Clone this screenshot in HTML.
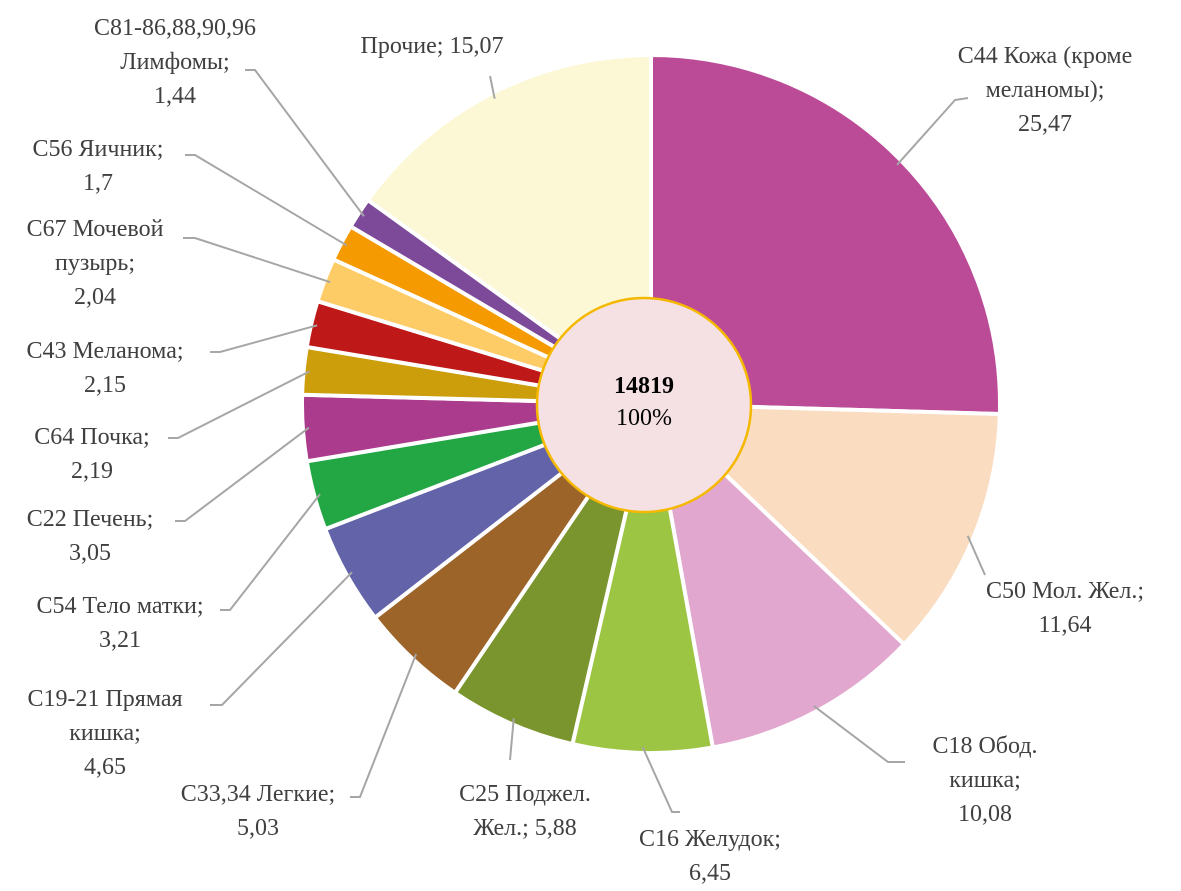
<!DOCTYPE html>
<html><head><meta charset="utf-8"><style>
html,body{margin:0;padding:0;background:#fff;}
svg text{font-family:"Liberation Serif",serif;font-size:24px;fill:#404040;}
</style></head><body>
<svg id="chart" width="1181" height="886" viewBox="0 0 1181 886">
<g id="slices"></g>
<g id="leaders"></g>
<g id="labels"></g>
<circle cx="644" cy="405" r="107" fill="#f5e1e3" stroke="#f5b800" stroke-width="2.5"/>
<text x="644" y="393" text-anchor="middle" style="font-weight:bold;fill:#000">14819</text>
<text x="644" y="425" text-anchor="middle" style="fill:#000">100%</text>
</svg>
<script>
const categories=["С44 Кожа (кроме меланомы)","С50 Мол. Жел.","С18 Обод. кишка","С16 Желудок","С25 Поджел. Жел.","С33,34 Легкие","С19-21 Прямая кишка","С54 Тело матки","С22 Печень","С64 Почка","С43 Меланома","С67 Мочевой пузырь","С56 Яичник","С81-86,88,90,96 Лимфомы","Прочие"];
const values=[25.47,11.64,10.08,6.45,5.88,5.03,4.65,3.21,3.05,2.19,2.15,2.04,1.7,1.44,15.07];
const valueLabels=["25,47","11,64","10,08","6,45","5,88","5,03","4,65","3,21","3,05","2,19","2,15","2,04","1,7","1,44","15,07"];
const colors=["#bb4a97","#fadcc0","#e2a7cf","#9dc544","#7a952e","#9c6428","#6363aa","#22a744","#ab3b8c","#cc9e0c","#bf1818","#fdcc66","#f59a00","#7d4a9a","#fcf8d6"];
const labelLines=[["С44 Кожа (кроме","меланомы);","{v}"],["С50 Мол. Жел.;","{v}"],["С18 Обод.","кишка;","{v}"],["С16 Желудок;","{v}"],["С25 Поджел.","Жел.; {v}"],["С33,34 Легкие;","{v}"],["С19-21 Прямая","кишка;","{v}"],["С54 Тело матки;","{v}"],["С22 Печень;","{v}"],["С64 Почка;","{v}"],["С43 Меланома;","{v}"],["С67 Мочевой","пузырь;","{v}"],["С56 Яичник;","{v}"],["С81-86,88,90,96","Лимфомы;","{v}"],["Прочие; {v}"]];
const labelPos=[[1045,63],[1065,598],[985,753],[710,846],[525,801],[258,801],[105,706],[120,613],[90,526],[92,444],[105,358],[95,236],[98,156],[175,35],[432,53]];
const leaderEnd=[[[955,100],[968,98]],[[985,575],[985,575]],[[888,762],[905,762]],[[672,812],[680,812]],[[510,760],[510,760]],[[360,797],[350,797]],[[222,705],[210,705]],[[230,610],[220,610]],[[185,521],[175,521]],[[178,438],[168,438]],[[220,352],[210,352]],[[195,238],[183,238]],[[195,155],[185,155]],[[255,70],[245,70]],[[490,76],[490,76]]];
const cx=651,cy=404,R=349,NS="http://www.w3.org/2000/svg";
const total=values.reduce((a,b)=>a+b,0);
function pt(frac,r){const a=frac*2*Math.PI;return [cx+r*Math.sin(a),cy-r*Math.cos(a)];}
const gS=document.getElementById('slices'),gL=document.getElementById('leaders'),gT=document.getElementById('labels');
let acc=0;
values.forEach((v,i)=>{
 const f0=acc/total,f1=(acc+v)/total;acc+=v;
 const p0=pt(f0,R),p1=pt(f1,R);
 const large=(f1-f0)>0.5?1:0;
 const p=document.createElementNS(NS,'path');
 p.setAttribute('d',`M${cx},${cy} L${p0[0]},${p0[1]} A${R},${R} 0 ${large} 1 ${p1[0]},${p1[1]} Z`);
 p.setAttribute('fill',colors[i]);p.setAttribute('stroke','#fff');p.setAttribute('stroke-width','4');
 
 
 gS.appendChild(p);
 const m=pt((f0+f1)/2,R-6);
 const e=leaderEnd[i];
 const l=document.createElementNS(NS,'polyline');
 l.setAttribute('points',`${m[0]},${m[1]} ${e[0][0]},${e[0][1]} ${e[1][0]},${e[1][1]}`);
 l.setAttribute('fill','none');l.setAttribute('stroke','#a6a6a6');l.setAttribute('stroke-width','2');
 
 
 gL.appendChild(l);
 const t=document.createElementNS(NS,'text');
 t.setAttribute('text-anchor','middle');
 
 
 labelLines[i].forEach((s,k)=>{const ts=document.createElementNS(NS,'tspan');ts.setAttribute('x',labelPos[i][0]);ts.setAttribute('y',labelPos[i][1]+k*34);ts.textContent=s.replace('{v}',valueLabels[i]);t.appendChild(ts);});
 gT.appendChild(t);
});
</script>
</body></html>
